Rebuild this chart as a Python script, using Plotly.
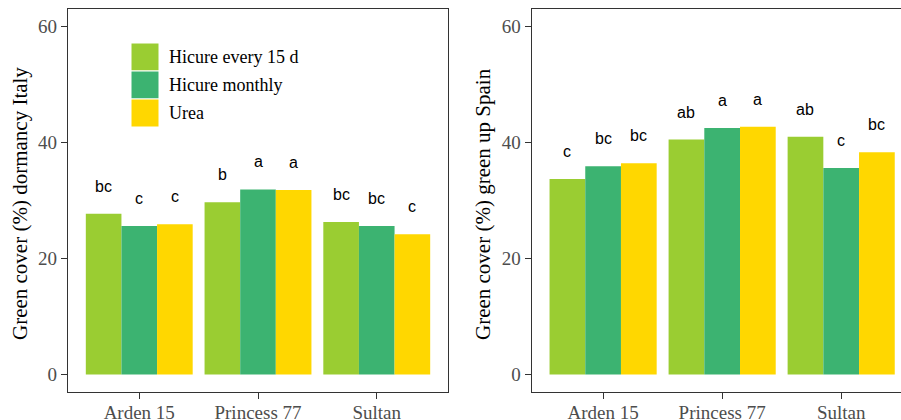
import plotly.graph_objects as go

W, H = 901, 420

categories = ["Arden 15", "Princess 77", "Sultan"]
treatments = ["Hicure every 15 d", "Hicure monthly", "Urea"]
colors = ["#9ACD32", "#3CB371", "#FFD700"]

italy_values = {
    "Hicure every 15 d": [27.7, 29.7, 26.3],
    "Hicure monthly": [25.6, 31.9, 25.6],
    "Urea": [25.9, 31.8, 24.2],
}
italy_letters = {
    "Hicure every 15 d": ["bc", "b", "bc"],
    "Hicure monthly": ["c", "a", "bc"],
    "Urea": ["c", "a", "c"],
}
spain_values = {
    "Hicure every 15 d": [33.7, 40.5, 41.0],
    "Hicure monthly": [35.9, 42.5, 35.6],
    "Urea": [36.4, 42.7, 38.3],
}
spain_letters = {
    "Hicure every 15 d": ["c", "ab", "ab"],
    "Hicure monthly": ["bc", "a", "c"],
    "Urea": ["bc", "a", "bc"],
}
y_ticks = [0, 20, 40, 60]
y_titles = ["Green cover (%) dormancy Italy", "Green cover (%) green up Spain"]

SERIF = "Liberation Serif"
SANS = "Liberation Sans"

fig = go.Figure()
annotations = []
shapes = []

for panel, (vals, letters) in enumerate([(italy_values, italy_letters), (spain_values, spain_letters)]):
    xa = "x" if panel == 0 else "x2"
    ya = "y" if panel == 0 else "y2"
    for j, t in enumerate(treatments):
        fig.add_trace(go.Bar(
            x=categories, y=vals[t], name=t, marker=dict(color=colors[j], line=dict(width=0)),
            xaxis=xa, yaxis=ya, showlegend=False, offsetgroup=str(j),
        ))
        for i, c in enumerate(categories):
            annotations.append(dict(
                x=i + (j - 1) * 0.3, y=vals[t][i], xref=xa, yref=ya,
                text=letters[t][i], showarrow=False, yanchor="bottom", yshift=17,
                font=dict(family=SANS, size=16, color="black"),
            ))

def px2x(p):
    return p / W

def py2y(p):
    return 1 - p / H

axis_common = dict(
    showgrid=False, zeroline=False, showline=True, linecolor="#333333", linewidth=1.3,
    ticks="outside", ticklen=6, tickwidth=1.3, tickcolor="#333333", automargin=False,
    tickfont=dict(family=SERIF, size=19, color="#4D4D4D"),
)

fig.update_layout(
    width=W, height=H, margin=dict(l=0, r=0, t=0, b=0, autoexpand=False),
    paper_bgcolor="white", plot_bgcolor="white",
    barmode="group", bargap=0.1, bargroupgap=0,
    xaxis=dict(domain=[px2x(68), px2x(448)], range=[-0.6, 2.6], anchor="y", mirror=True,
               type="category", ticklabelstandoff=-3, **axis_common),
    yaxis=dict(domain=[py2y(392), py2y(9)], range=[-3, 63], anchor="x", mirror=True,
               tickvals=y_ticks, **axis_common),
    xaxis2=dict(domain=[px2x(531.7), 1.0], range=[-0.6, 2.6 - (912.6 - 901) / 119], anchor="y2",
                mirror=True, type="category", ticklabelstandoff=-3, **axis_common),
    yaxis2=dict(domain=[py2y(392), py2y(9)], range=[-3, 63], anchor="x2", mirror=False,
                tickvals=y_ticks, **axis_common),
)

# axis titles
for xpx, title in zip([20, 483], y_titles):
    annotations.append(dict(
        x=px2x(xpx), y=py2y(204), xref="paper", yref="paper", text=title, textangle=-90,
        showarrow=False, xanchor="center", yanchor="middle",
        font=dict(family=SERIF, size=21, color="black"),
    ))

# custom legend (large keys)
rows = [(43, 71), (71, 99), (99, 127)]
for j, t in enumerate(treatments):
    top, bot = rows[j]
    shapes.append(dict(type="rect", xref="paper", yref="paper",
                       x0=px2x(131), x1=px2x(159), y0=py2y(bot), y1=py2y(top),
                       fillcolor=colors[j], line=dict(color="white", width=1)))
    annotations.append(dict(
        x=px2x(167), y=py2y((top + bot) / 2), xref="paper", yref="paper", text=t,
        showarrow=False, xanchor="left", yanchor="middle",
        font=dict(family=SERIF, size=18, color="black"),
    ))

fig.update_layout(annotations=annotations, shapes=shapes)
fig.write_html("out.html")
